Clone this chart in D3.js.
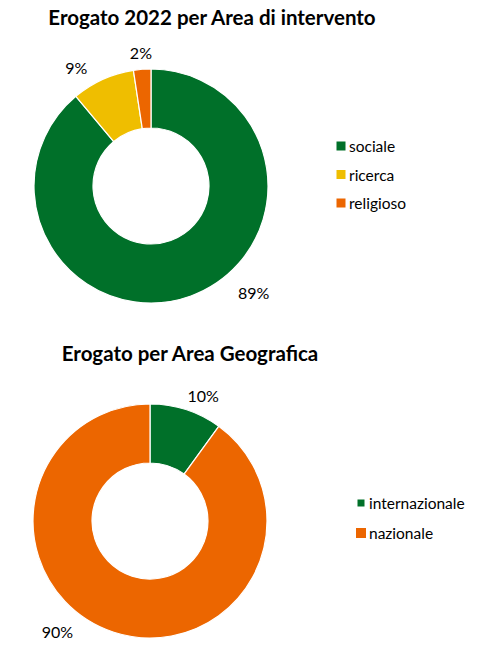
<!DOCTYPE html>
<html>
<head>
<meta charset="utf-8">
<script src="https://cdn.jsdelivr.net/npm/d3@7/dist/d3.min.js"></script>
<style>
  html, body { margin: 0; padding: 0; background: #fff; }
  svg { display: block; }
  text { font-family: Lato, "Open Sans", sans-serif; fill: #000; }
</style>
</head>
<body>
<script>
// ---- data ----
const areaTitle = "Erogato 2022 per Area di intervento";
const areaCategories = ["sociale", "ricerca", "religioso"];
const areaValues = [88.9, 8.7, 2.4];

const geoTitle = "Erogato per Area Geografica";
const geoCategories = ["internazionale", "nazionale"];
const geoValues = [10, 90];

// ---- styles / layout ----
const areaColors = ["#007029", "#EFBE00", "#EC6600"];
const geoColors = ["#007029", "#EC6600"];
// label placement tweaks (degrees shifted from slice middle, radius)
const areaLabelShift = [-24, -8, 0];
const areaLabelRadius = [148, 140, 134];
const geoLabelShift = [5, 22];
const geoLabelRadius = [136, 144];

const W = 479, H = 652;
const svg = d3.select("body").append("svg").attr("width", W).attr("height", H);

function donut(opts) {
  const { title, titleX, titleY, cx, cy, cats, vals, colors, shifts, radii,
          legendX, legendY, legendStep, squareSizes } = opts;
  svg.append("text")
    .attr("x", titleX).attr("y", titleY)
    .attr("text-anchor", "middle")
    .style("font-weight", "bold").style("font-size", "20.5px")
    .text(title);

  const total = d3.sum(vals);
  const pie = d3.pie().sort(null).value(d => d)(vals);
  const arc = d3.arc().innerRadius(58).outerRadius(117);
  const g = svg.append("g").attr("transform", `translate(${cx},${cy})`);
  g.selectAll("path").data(pie).join("path")
    .attr("d", arc)
    .attr("fill", (d, i) => colors[i])
    .attr("stroke", "#fff").attr("stroke-width", 1.2);

  const fmt = d3.format(".0%");
  const ang = (d, i) => (d.startAngle + d.endAngle) / 2 + shifts[i] * Math.PI / 180;
  g.selectAll("text.lbl").data(pie).join("text")
    .attr("class", "lbl")
    .attr("x", (d, i) => radii[i] * Math.sin(ang(d, i)))
    .attr("y", (d, i) => -radii[i] * Math.cos(ang(d, i)))
    .attr("text-anchor", "middle").attr("dominant-baseline", "central")
    .style("font-size", "16px")
    .text(d => fmt(d.data / total));

  const lg = svg.append("g").attr("transform", `translate(${legendX},${legendY})`);
  cats.forEach((c, i) => {
    const s = squareSizes[i];
    lg.append("rect")
      .attr("x", 5 - s / 2).attr("y", i * legendStep - s / 2)
      .attr("width", s).attr("height", s)
      .attr("fill", colors[i]);
    lg.append("text")
      .attr("x", 13).attr("y", i * legendStep)
      .attr("dominant-baseline", "central")
      .style("font-size", "15.5px")
      .text(c);
  });
}

donut({
  title: areaTitle, titleX: 212, titleY: 25, cx: 151, cy: 186,
  cats: areaCategories, vals: areaValues, colors: areaColors,
  shifts: areaLabelShift, radii: areaLabelRadius,
  legendX: 336, legendY: 146, legendStep: 28.5, squareSizes: [9, 9, 9]
});

donut({
  title: geoTitle, titleX: 190, titleY: 361, cx: 150, cy: 521,
  cats: geoCategories, vals: geoValues, colors: geoColors,
  shifts: geoLabelShift, radii: geoLabelRadius,
  legendX: 356, legendY: 503, legendStep: 30, squareSizes: [7, 10]
});
</script>
</body>
</html>
